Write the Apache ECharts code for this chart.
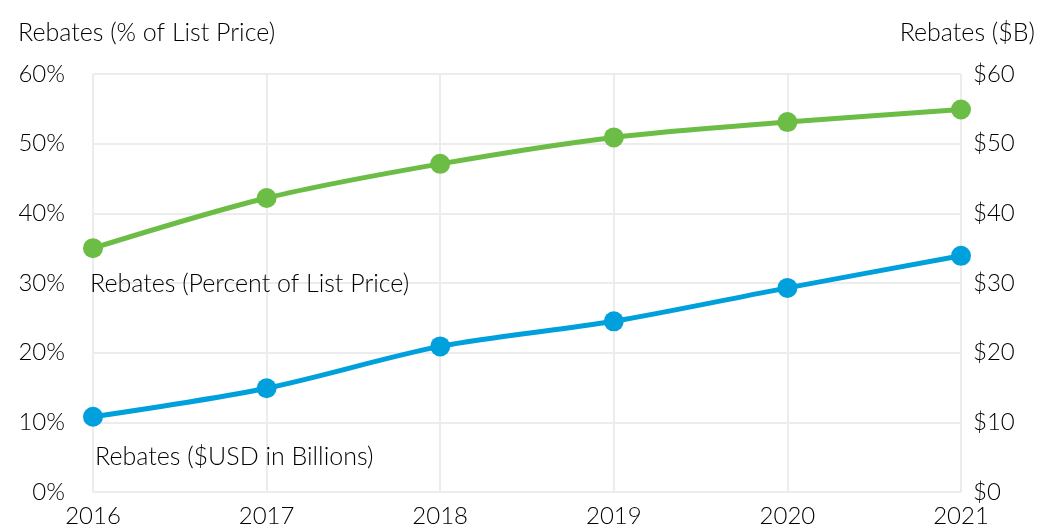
<!DOCTYPE html>
<html>
<head>
<meta charset="utf-8">
<style>
  html, body { margin: 0; padding: 0; background: #fff; }
  #main { width: 1038px; height: 528px; }
</style>
<script src="https://cdn.jsdelivr.net/npm/echarts@6/dist/echarts.min.js"></script>
</head>
<body>
<div id="main"></div>
<script>
// data
var years = ['2016', '2017', '2018', '2019', '2020', '2021'];
var rebatePct = [35.0, 42.2, 47.1, 50.9, 53.1, 54.9];   // % of list price
var rebateUsd = [10.8, 14.9, 20.9, 24.5, 29.3, 33.9];   // $ billions
var pctTicks = ['0%', '10%', '20%', '30%', '40%', '50%', '60%'];
var usdTicks = ['$0', '$10', '$20', '$30', '$40', '$50', '$60'];

var FONT = 'Lato';
var FS = 24;       // tick labels
var FS_TXT = 25;   // titles and notes
var INK = '#000';
var GRID_COLOR = '#ececec';

function note(opt, text) {
  opt.type = 'text';
  opt.z = 100;
  opt.style = { text: text, fontSize: FS_TXT, fontFamily: FONT, fontWeight: 300, fill: INK };
  return opt;
}

var chart = echarts.init(document.getElementById('main'));
chart.setOption({
  animation: false,
  textStyle: { fontFamily: FONT },
  grid: { left: 93, right: 77, top: 74, bottom: 33 },
  xAxis: {
    type: 'category',
    boundaryGap: false,
    data: years,
    axisLine: { show: false },
    axisTick: { show: false },
    splitLine: { show: true, lineStyle: { color: GRID_COLOR, width: 2 } },
    axisLabel: { color: INK, fontSize: FS, fontWeight: 300, margin: 12, fontFamily: FONT }
  },
  yAxis: [{
    type: 'value',
    min: 0, max: 60, interval: 10,
    axisLine: { show: false },
    axisTick: { show: false },
    splitLine: { lineStyle: { color: GRID_COLOR, width: 2 } },
    axisLabel: {
      color: INK, fontSize: FS, fontWeight: 300, margin: 28, fontFamily: FONT,
      formatter: function (v) { return pctTicks[v / 10]; }
    }
  }, {
    type: 'value',
    min: 0, max: 60, interval: 10,
    axisLine: { show: false },
    axisTick: { show: false },
    splitLine: { show: false },
    axisLabel: {
      color: INK, fontSize: FS, fontWeight: 300, margin: 12, fontFamily: FONT,
      formatter: function (v) { return usdTicks[v / 10]; }
    }
  }],
  series: [{
    name: 'Rebates (Percent of List Price)',
    type: 'line',
    yAxisIndex: 0,
    smooth: 0.3,
    data: rebatePct,
    symbol: 'circle',
    symbolSize: 20,
    itemStyle: { color: '#6cbd45' },
    lineStyle: { color: '#6cbd45', width: 5 }
  }, {
    name: 'Rebates ($USD in Billions)',
    type: 'line',
    yAxisIndex: 1,
    smooth: 0.3,
    data: rebateUsd,
    symbol: 'circle',
    symbolSize: 20,
    itemStyle: { color: '#00a0dc' },
    lineStyle: { color: '#00a0dc', width: 5 }
  }],
  graphic: [
    note({ left: 18, top: 20 }, 'Rebates (% of List Price)'),
    note({ right: 3, top: 20 }, 'Rebates ($B)'),
    note({ left: 90, top: 271 }, 'Rebates (Percent of List Price)'),
    note({ left: 95, top: 444 }, 'Rebates ($USD in Billions)')
  ]
});
</script>
</body>
</html>
